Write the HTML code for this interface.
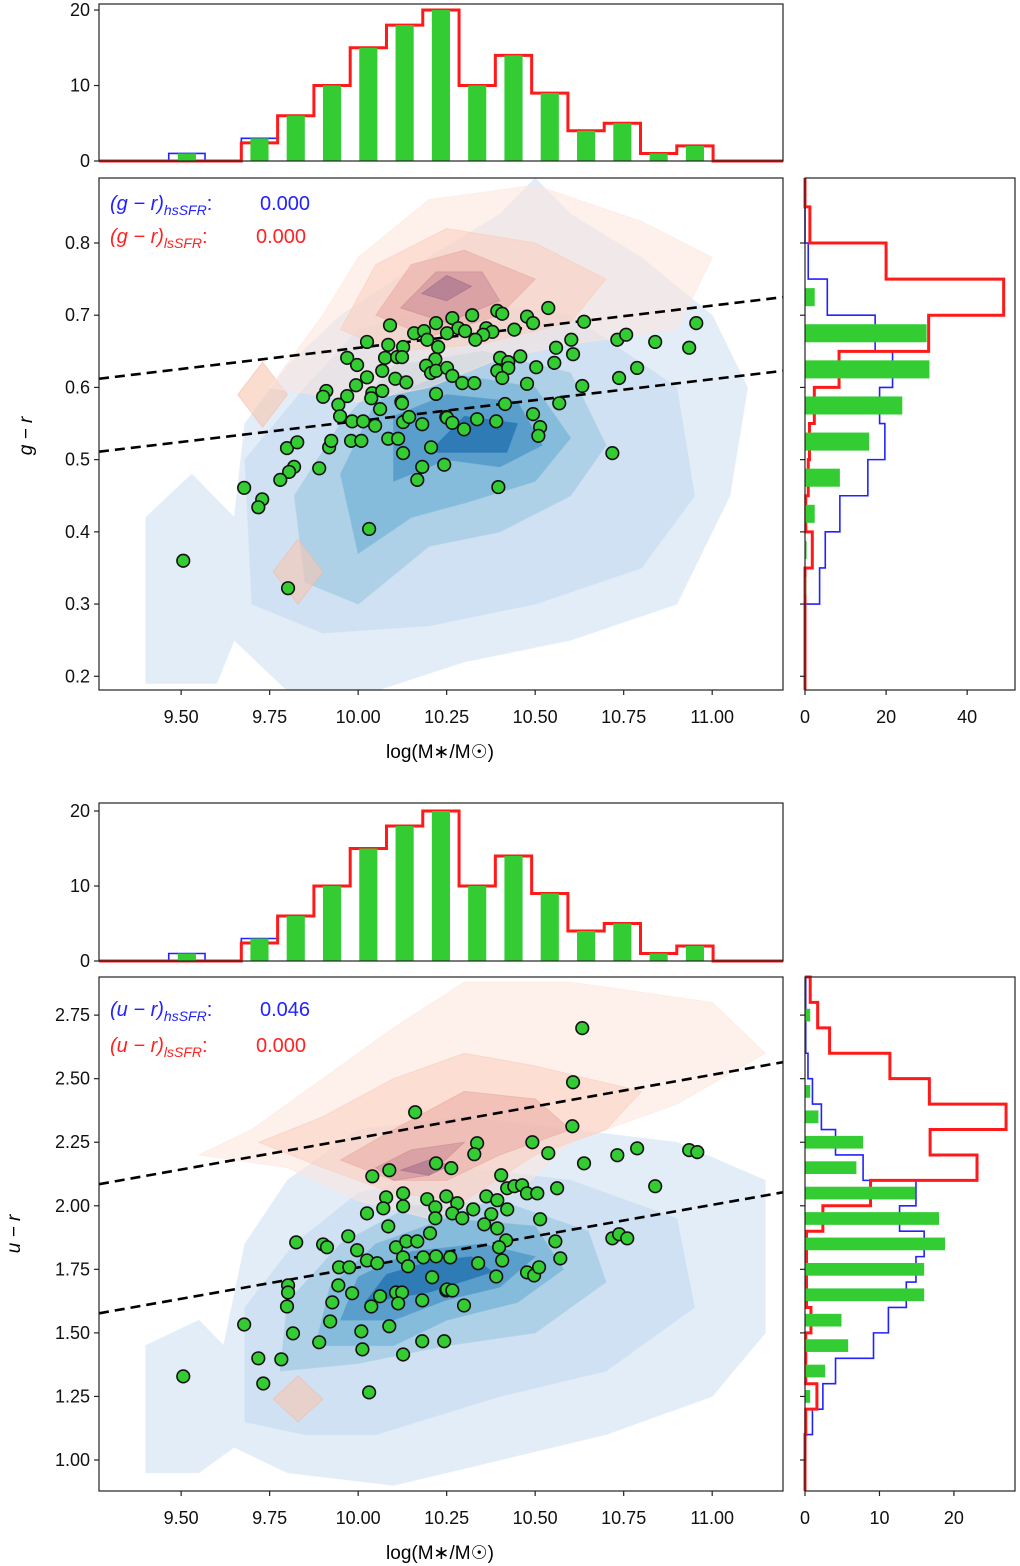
<!DOCTYPE html>
<html><head><meta charset="utf-8"><style>
html,body{margin:0;padding:0;background:#fff;}
svg{display:block;font-family:"Liberation Sans","DejaVu Sans",sans-serif;}
</style></head><body>
<svg id="fig" width="1020" height="1566" viewBox="0 0 1020 1566" xmlns="http://www.w3.org/2000/svg">
<defs>
<clipPath id="c1"><rect x="99" y="178" width="684" height="512"/></clipPath>
<clipPath id="c2"><rect x="99" y="977" width="684" height="514"/></clipPath>
</defs>
<g id="layer"></g>
<text x="110" y="210" font-size="20" fill="#2222ff"><tspan font-style="italic">(g − r)</tspan><tspan font-style="italic" font-size="14" dy="5">hsSFR</tspan><tspan dy="-5">:</tspan><tspan x="260">0.000</tspan></text>
<text x="110" y="243" font-size="20" fill="#ff2222"><tspan font-style="italic">(g − r)</tspan><tspan font-style="italic" font-size="14" dy="5">lsSFR</tspan><tspan dy="-5">:</tspan><tspan x="256">0.000</tspan></text>
<text x="110" y="1016" font-size="20" fill="#2222ff"><tspan font-style="italic">(u − r)</tspan><tspan font-style="italic" font-size="14" dy="5">hsSFR</tspan><tspan dy="-5">:</tspan><tspan x="260">0.046</tspan></text>
<text x="110" y="1052" font-size="20" fill="#ff2222"><tspan font-style="italic">(u − r)</tspan><tspan font-style="italic" font-size="14" dy="5">lsSFR</tspan><tspan dy="-5">:</tspan><tspan x="256">0.000</tspan></text>
<text x="440" y="758" font-size="19" text-anchor="middle">log(M∗/M☉)</text>
<text x="440" y="1559" font-size="19" text-anchor="middle">log(M∗/M☉)</text>
<text x="0" y="0" font-size="19" font-style="italic" text-anchor="middle" transform="translate(32,436) rotate(-90)">g − r</text>
<text x="0" y="0" font-size="19" font-style="italic" text-anchor="middle" transform="translate(20,1234) rotate(-90)">u − r</text>
</svg>
<script>
// ---------- DATA ----------
const massGR=[10.090,10.220,10.158,10.186,10.025,10.085,10.127,10.195,10.226,9.969,9.997,10.076,10.110,10.124,10.218,10.192,10.206,10.220,10.068,10.025,9.994,10.105,10.136,9.910,9.901,9.969,10.040,10.068,10.037,10.220,9.944,10.062,10.122,10.124,9.949,9.983,10.014,10.048,10.127,10.144,10.181,10.249,9.799,9.828,9.918,9.924,9.980,10.009,10.085,10.113,10.127,10.206,10.243,9.819,9.805,9.780,9.890,10.181,10.167,9.678,9.729,9.718,10.031,9.506,9.802,
10.266,10.322,10.393,10.407,10.477,10.494,10.537,10.283,10.302,10.362,10.379,10.353,10.331,10.441,10.251,10.638,10.955,10.732,10.757,10.839,10.935,10.602,10.559,10.607,10.554,10.401,10.424,10.458,10.503,10.393,10.424,10.407,10.251,10.266,10.294,10.328,10.477,10.788,10.737,10.633,10.415,10.568,10.251,10.266,10.299,10.336,10.390,10.494,10.514,10.509,10.718,10.396];
const colorGR=[0.686,0.689,0.675,0.678,0.663,0.659,0.656,0.666,0.656,0.641,0.631,0.641,0.642,0.642,0.639,0.630,0.620,0.623,0.623,0.614,0.603,0.612,0.607,0.595,0.587,0.588,0.592,0.595,0.585,0.591,0.576,0.570,0.580,0.578,0.560,0.553,0.553,0.547,0.552,0.559,0.549,0.559,0.516,0.524,0.517,0.526,0.526,0.526,0.529,0.529,0.509,0.517,0.493,0.490,0.483,0.472,0.488,0.490,0.472,0.461,0.445,0.434,0.404,0.360,0.322,
0.696,0.700,0.706,0.702,0.698,0.689,0.710,0.682,0.678,0.682,0.677,0.673,0.666,0.680,0.675,0.691,0.689,0.666,0.673,0.663,0.655,0.666,0.655,0.646,0.634,0.641,0.635,0.643,0.628,0.623,0.627,0.613,0.627,0.616,0.606,0.606,0.605,0.627,0.613,0.602,0.577,0.578,0.558,0.551,0.542,0.556,0.553,0.563,0.545,0.533,0.509,0.462];
const massUR=[10.161,10.220,10.263,10.088,10.040,10.079,10.127,10.127,10.071,10.025,10.195,10.218,10.249,10.280,10.266,10.218,10.085,10.203,9.972,9.825,9.901,9.912,9.997,10.107,10.136,10.167,10.025,10.054,9.946,9.975,10.127,10.141,10.184,10.220,10.260,10.209,9.802,9.802,9.944,9.983,9.927,10.062,10.107,10.124,10.037,10.113,10.181,10.249,9.799,9.678,9.921,10.088,9.816,10.009,9.890,10.181,10.243,10.012,10.127,9.718,9.783,9.506,9.732,10.031,
10.633,10.607,10.605,10.336,10.328,10.492,10.537,10.638,10.732,10.788,10.935,10.958,10.404,10.421,10.441,10.463,10.477,10.506,10.562,10.839,10.362,10.393,10.325,10.294,10.376,10.421,10.356,10.393,10.514,10.418,10.557,10.398,10.718,10.737,10.760,10.407,10.571,10.339,10.390,10.477,10.497,10.511,10.251,10.266,10.299];
const colorUR=[2.368,2.167,2.148,2.140,2.116,2.033,2.049,1.998,1.990,1.970,2.026,1.994,2.037,2.010,1.970,1.951,1.919,1.892,1.880,1.856,1.848,1.837,1.825,1.837,1.860,1.860,1.785,1.774,1.758,1.758,1.797,1.762,1.797,1.801,1.797,1.719,1.687,1.659,1.687,1.656,1.620,1.644,1.659,1.659,1.604,1.616,1.628,1.667,1.604,1.533,1.545,1.526,1.498,1.506,1.463,1.467,1.467,1.435,1.415,1.400,1.396,1.329,1.301,1.266,
2.699,2.486,2.313,2.246,2.203,2.250,2.207,2.167,2.199,2.226,2.219,2.211,2.120,2.069,2.077,2.081,2.049,2.049,2.069,2.077,2.037,2.022,1.986,1.951,1.967,1.986,1.927,1.911,1.947,1.864,1.860,1.837,1.872,1.888,1.872,1.785,1.793,1.774,1.722,1.738,1.726,1.758,1.671,1.667,1.608];
const massBinStart=9.465, massBinWidth=0.1025;
const massHistBlue=[1,0,3,6,10,15,18,20,10,14,9,4,5,1,2];
const massHistRed=[0,0,2.4,6,10,15,18,20,10,14,9,4,5,1,2];
const massHistGreen=[1,0,3,6,10,15,18,20,10,14,9,4,5,1,2];
const grBinTop=0.85, grBinWidth=0.05;
const grHistRed=[1.2,20,49,30.5,8.4,2.3,1.1,0.8,0.2,1.8,0];
const grHistBlue=[0,0.8,5.5,17.3,21.6,18.4,19.7,15.5,8.6,5,3.6];
const grHistGreen=[0,0,2.4,30,30.7,24,15.8,8.6,2.4,0.4,0.3];
const urBinTop=2.9, urBinWidth=0.1;
const urHistRed=[0.7,1.7,3.3,11.4,16.7,27,16.8,23.1,8.8,2.4,0.2,0.2,0.2,0.8,0.1,0.1,1.6,0.1,0];
const urHistBlue=[0.1,0.1,0.1,0.4,1,2.2,4.1,7.8,14.9,12.7,16,14.9,13.6,11.2,9.2,4.1,2.4,1,0.1];
const urHistGreen=[0,0.7,0,0,0.7,1.8,7.8,6.9,14.8,18,18.8,16,16,4.9,5.8,2.7,0.7,0,0];
const grLineUpper=[9.268,0.612,11.2,0.725];
const grLineLower=[9.268,0.511,11.2,0.623];
const urLineUpper=[9.268,2.085,11.2,2.565];
const urLineLower=[9.268,1.577,11.2,2.053];
const massTicks=[9.5,9.75,10.0,10.25,10.5,10.75,11.0];
const massTickLabels=["9.50","9.75","10.00","10.25","10.50","10.75","11.00"];
const grTicks=[0.2,0.3,0.4,0.5,0.6,0.7,0.8];
const grTickLabels=["0.2","0.3","0.4","0.5","0.6","0.7","0.8"];
const urTicks=[1.0,1.25,1.5,1.75,2.0,2.25,2.5,2.75];
const urTickLabels=["1.00","1.25","1.50","1.75","2.00","2.25","2.50","2.75"];
const countTicks=[0,10,20];
const grCountTicks=[0,20,40];
const urCountTicks=[0,10,20];
const grBlueLevels=[
[[9.40,0.19],[9.40,0.42],[9.53,0.48],[9.65,0.42],[9.68,0.55],[9.80,0.63],[9.95,0.70],[10.2,0.78],[10.4,0.84],[10.5,0.89],[10.6,0.84],[10.8,0.78],[11.0,0.70],[11.1,0.60],[11.05,0.45],[10.9,0.30],[10.6,0.25],[10.3,0.22],[10.05,0.18],[9.8,0.18],[9.65,0.25],[9.6,0.19]],
[[9.70,0.30],[9.68,0.50],[9.85,0.60],[10.0,0.68],[10.3,0.72],[10.6,0.70],[10.9,0.60],[10.95,0.45],[10.8,0.35],[10.5,0.30],[10.2,0.27],[9.9,0.26]],
[[9.85,0.33],[9.82,0.45],[9.95,0.55],[10.1,0.63],[10.35,0.65],[10.6,0.62],[10.7,0.52],[10.6,0.45],[10.4,0.40],[10.2,0.38],[10.0,0.30]],
[[10.0,0.37],[9.95,0.48],[10.05,0.58],[10.25,0.62],[10.5,0.60],[10.6,0.53],[10.5,0.47],[10.3,0.44],[10.15,0.42]],
[[10.1,0.47],[10.1,0.56],[10.25,0.59],[10.45,0.58],[10.52,0.52],[10.4,0.49],[10.25,0.5]],
[[10.2,0.51],[10.3,0.56],[10.45,0.55],[10.42,0.51]]];
const grRedLevels=[
[[9.75,0.60],[9.9,0.70],[10.0,0.78],[10.2,0.86],[10.5,0.88],[10.8,0.83],[11.0,0.78],[10.9,0.68],[10.6,0.66],[10.4,0.64],[10.2,0.60],[10.0,0.58]],
[[9.95,0.68],[10.05,0.77],[10.25,0.82],[10.5,0.80],[10.7,0.75],[10.6,0.69],[10.35,0.66],[10.1,0.65]],
[[10.05,0.70],[10.15,0.77],[10.3,0.79],[10.5,0.75],[10.4,0.70],[10.2,0.67]],
[[10.12,0.71],[10.22,0.76],[10.35,0.76],[10.4,0.72],[10.25,0.69]],
[[10.18,0.73],[10.25,0.755],[10.32,0.74],[10.25,0.72]]];
const grRedSpots=[[9.73,0.59,0.07,0.045],[9.83,0.345,0.07,0.045]];
const urBlueLevels=[
[[9.40,0.95],[9.40,1.45],[9.55,1.55],[9.62,1.45],[9.68,1.85],[9.80,2.10],[10.0,2.30],[10.3,2.35],[10.6,2.30],[10.9,2.25],[11.15,2.1],[11.15,1.5],[11.0,1.25],[10.7,1.1],[10.4,1.0],[10.1,0.90],[9.8,0.95],[9.65,1.05],[9.55,0.95]],
[[9.68,1.15],[9.68,1.6],[9.82,1.85],[10.0,2.05],[10.3,2.15],[10.6,2.1],[10.9,1.95],[10.95,1.6],[10.7,1.35],[10.4,1.25],[10.05,1.1],[9.85,1.1]],
[[9.78,1.35],[9.8,1.62],[9.95,1.85],[10.15,2.0],[10.4,2.02],[10.65,1.9],[10.7,1.7],[10.5,1.5],[10.25,1.45],[10.0,1.38]],
[[9.88,1.45],[9.92,1.68],[10.05,1.85],[10.25,1.95],[10.5,1.92],[10.58,1.75],[10.45,1.62],[10.25,1.55],[10.1,1.45]],
[[9.95,1.55],[10.0,1.72],[10.15,1.82],[10.35,1.85],[10.5,1.8],[10.4,1.68],[10.25,1.63],[10.1,1.55]],
[[10.02,1.62],[10.08,1.73],[10.2,1.78],[10.32,1.80],[10.38,1.74],[10.2,1.66]]];
const urRedLevels=[
[[9.55,2.2],[9.7,2.3],[9.9,2.5],[10.1,2.7],[10.3,2.88],[10.6,2.88],[11.0,2.8],[11.15,2.6],[10.9,2.4],[10.6,2.25],[10.45,2.05],[10.2,1.95],[10.0,2.02],[9.8,2.15]],
[[9.72,2.25],[9.9,2.35],[10.1,2.5],[10.3,2.6],[10.5,2.55],[10.8,2.45],[10.7,2.3],[10.5,2.2],[10.3,2.02],[10.1,2.05],[9.9,2.15]],
[[9.95,2.18],[10.1,2.3],[10.3,2.45],[10.5,2.42],[10.6,2.3],[10.4,2.2],[10.25,2.1],[10.1,2.1]],
[[10.05,2.15],[10.15,2.22],[10.3,2.25],[10.2,2.12],[10.1,2.1]],
[[10.12,2.14],[10.2,2.18],[10.26,2.16],[10.2,2.12]]];
const urRedSpots=[[9.83,1.24,0.07,0.09]];

// ---------- DRAW ----------
const NS="http://www.w3.org/2000/svg";
const root=document.getElementById('layer');
function mk(tag,attrs,parent){const e=document.createElementNS(NS,tag);for(const k in attrs)e.setAttribute(k,attrs[k]);(parent||root).appendChild(e);return e;}
function lin(d0,d1,p0,p1){return v=>p0+(v-d0)/(d1-d0)*(p1-p0);}
const X=lin(9.268,11.2,99,783);
const Y1=lin(0.181,0.890,690,178);
const Y2=lin(0.878,2.90,1491,977);
const H1=lin(0,20.8,161,4);
const H2=lin(0,21.07,961,803);
const R1=lin(0,51.8,805,1015);
const R2=lin(0,28.2,805,1015);
const blueCols=["#e2edf8","#cfe1f2","#aed1e7","#85bcdb","#5a9ecc","#2e7bb6"];
const redCols=["#fde6dc","#f9cdbd","#eaaaa2","#c98a95","#9c6c88"];

function contours(g,levels,cols,Yf,opacity,name){
  levels.forEach((poly,i)=>{
    const p=mk('polygon',{points:poly.map(q=>X(q[0])+','+Yf(q[1])).join(' '),fill:cols[i],'fill-opacity':opacity,stroke:cols[i],'stroke-opacity':0.6},g);
    
    
  });
}
function spots(g,arr,Yf){
  arr.forEach(s=>{
    const pts=[[s[0]-s[2],s[1]],[s[0],s[1]+s[3]],[s[0]+s[2],s[1]],[s[0],s[1]-s[3]]];
    const p=mk('polygon',{points:pts.map(q=>X(q[0])+','+Yf(q[1])).join(' '),fill:'#f9c6b0','fill-opacity':0.6,stroke:'#f7b49c','stroke-opacity':0.5},g);
    
    
  });
}
function dashed(line,Yf,clip,name){
  const l=mk('line',{x1:X(line[0]),y1:Yf(line[1]),x2:X(line[2]),y2:Yf(line[3]),stroke:'#000','stroke-width':2.6,'stroke-dasharray':'10,6','clip-path':clip});
  
  
}
function scatter(xs,ys,Yf,clip,name){
  const g=mk('g',{'clip-path':clip});
  
  
  xs.forEach((v,i)=>{
    const c=mk('circle',{cx:X(v),cy:Yf(ys[i]),r:6.3,fill:'#33cc33',stroke:'#111','stroke-width':1.6},g);
    
    
  });
}
function frame(x0,y0,x1,y1,name){
  const r=mk('rect',{x:x0,y:y0,width:x1-x0,height:y1-y0,fill:'none',stroke:'#222','stroke-width':1.2});
  
  
}
function xTicks(vals,labels,y,Xf,name){
  vals.forEach((v,i)=>{
    const t=mk('line',{x1:Xf(v),x2:Xf(v),y1:y,y2:y+5,stroke:'#222','stroke-width':1.2});
    
    
    if(labels){
      const tx=mk('text',{x:Xf(v),y:y+33,'font-size':18,'text-anchor':'middle',fill:'#111'});
      tx.textContent=labels[i];
      
      
    }
  });
}
function yTicks(vals,labels,x,Yf,name){
  vals.forEach((v,i)=>{
    const t=mk('line',{x1:x-5,x2:x,y1:Yf(v),y2:Yf(v),stroke:'#222','stroke-width':1.2});
    
    
    if(labels){
      const tx=mk('text',{x:x-9,y:Yf(v)+6,'font-size':18,'text-anchor':'end',fill:'#111'});
      tx.textContent=labels[i];
      
      
    }
  });
}
function histTop(Hf,blue,red,green,name){
  const edge=i=>massBinStart+i*massBinWidth;
  [[blue,'#2222ff',1.6,'blue'],[red,'#ff1a1a',3,'red']].forEach(([arr,col,w,nm])=>{
    let d='M99,'+Hf(0)+' L'+X(edge(0))+','+Hf(0);
    arr.forEach((v,i)=>{d+=' L'+X(edge(i))+','+Hf(v)+' L'+X(edge(i+1))+','+Hf(v);});
    d+=' L'+X(edge(arr.length))+','+Hf(0)+' L783,'+Hf(0);
    const p=mk('path',{d:d,fill:'none',stroke:col,'stroke-width':w});
    
    
  });
  green.forEach((v,i)=>{
    if(v<=0)return;
    const c=edge(i)+massBinWidth/2;
    const x0=X(c-massBinWidth/4),x1=X(c+massBinWidth/4);
    const r=mk('rect',{x:x0,y:Hf(v),width:x1-x0,height:Hf(0)-Hf(v),fill:'#33cc33'});
    
    
  });
}
function histRight(Yf,Rf,top,bw,blue,red,green,yTop,yBot,name){
  const edge=i=>top-i*bw;
  [[blue,'#2222ff',1.6,'blue'],[red,'#ff1a1a',3,'red']].forEach(([arr,col,w,nm])=>{
    let d='M'+Rf(0)+','+yTop+' L'+Rf(0)+','+Yf(edge(0));
    arr.forEach((v,i)=>{d+=' L'+Rf(v)+','+Yf(edge(i))+' L'+Rf(v)+','+Yf(edge(i+1));});
    d+=' L'+Rf(0)+','+Yf(edge(arr.length))+' L'+Rf(0)+','+yBot;
    const p=mk('path',{d:d,fill:'none',stroke:col,'stroke-width':w});
    
    
  });
  green.forEach((v,i)=>{
    if(v<=0)return;
    const c=edge(i)-bw/2;
    const ya=Yf(c+bw/4),yb=Yf(c-bw/4);
    const r=mk('rect',{x:Rf(0),y:ya,width:Rf(v)-Rf(0),height:yb-ya,fill:'#33cc33'});
    
    
  });
}

// Panel 1 main
const g1=mk('g',{'clip-path':'url(#c1)'});


contours(g1,grBlueLevels,blueCols,Y1,1,'blue-density');
spots(g1,grRedSpots,Y1);
contours(g1,grRedLevels,redCols,Y1,0.55,'red-density');
dashed(grLineUpper,Y1,'url(#c1)','upper-dashed-line-gr');
dashed(grLineLower,Y1,'url(#c1)','lower-dashed-line-gr');
scatter(massGR,colorGR,Y1,'url(#c1)','gr-scatter');
frame(99,178,783,690,'gr-main-axes');
xTicks(massTicks,massTickLabels,690,X,'mass-x');
yTicks(grTicks,grTickLabels,99,Y1,'gr-y');
histTop(H1,massHistBlue,massHistRed,massHistGreen,'mass-hist-top');
frame(99,4,783,161,'mass-hist-axes-top');
yTicks(countTicks,["0","10","20"],99,H1,'mass-hist-top-y');
histRight(Y1,R1,grBinTop,grBinWidth,grHistBlue,grHistRed,grHistGreen,178,690,'gr-hist');
frame(805,178,1015,690,'gr-hist-axes');
yTicks(grTicks,null,805,Y1,'gr-hist-y');
xTicks(grCountTicks,["0","20","40"],690,R1,'gr-hist-x');

// Panel 2 main
const g2=mk('g',{'clip-path':'url(#c2)'});


contours(g2,urBlueLevels,blueCols,Y2,1,'blue-density');
spots(g2,urRedSpots,Y2);
contours(g2,urRedLevels,redCols,Y2,0.55,'red-density');
dashed(urLineUpper,Y2,'url(#c2)','upper-dashed-line-ur');
dashed(urLineLower,Y2,'url(#c2)','lower-dashed-line-ur');
scatter(massUR,colorUR,Y2,'url(#c2)','ur-scatter');
frame(99,977,783,1491,'ur-main-axes');
xTicks(massTicks,massTickLabels,1491,X,'mass-x2');
yTicks(urTicks,urTickLabels,99,Y2,'ur-y');
histTop(H2,massHistBlue,massHistRed,massHistGreen,'mass-hist-bottom');
frame(99,803,783,961,'mass-hist-axes-bottom');
yTicks(countTicks,["0","10","20"],99,H2,'mass-hist-bottom-y');
histRight(Y2,R2,urBinTop,urBinWidth,urHistBlue,urHistRed,urHistGreen,977,1491,'ur-hist');
frame(805,977,1015,1491,'ur-hist-axes');
yTicks(urTicks,null,805,Y2,'ur-hist-y');
xTicks(urCountTicks,["0","10","20"],1491,R2,'ur-hist-x');
</script>
</body></html>
